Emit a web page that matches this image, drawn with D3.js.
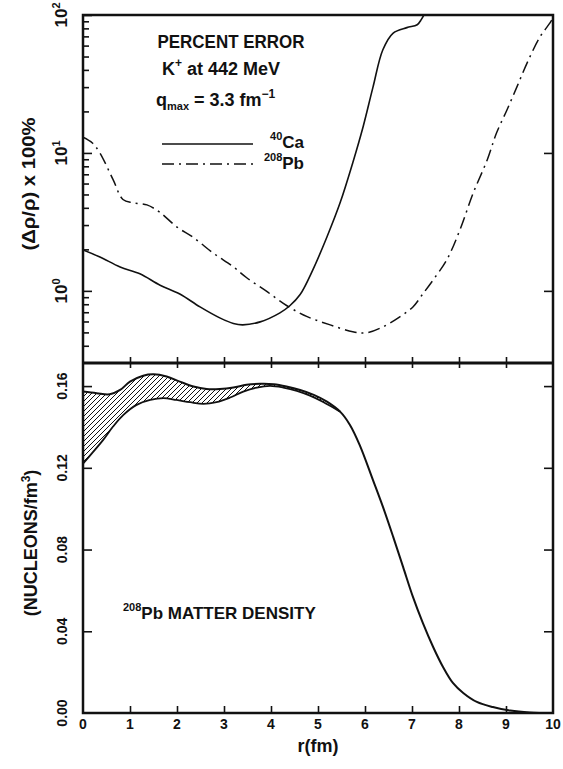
<!DOCTYPE html>
<html><head><meta charset="utf-8">
<script src="https://cdn.jsdelivr.net/npm/d3@7"></script>
<style>
body{margin:0;background:#fff;}
text{font-family:"Liberation Sans",Arial,sans-serif;font-weight:bold;fill:#111;}
</style></head><body>
<script>
// r axis
const rTicks = [0,1,2,3,4,5,6,7,8,9,10];

// top panel: percent error (log scale)
const caR   = [0, 0.36, 0.79, 1.21, 1.64, 2.06, 2.49, 2.91, 3.2, 3.4, 3.77, 4.19, 4.4, 4.62, 4.89, 5.19, 5.47, 5.74, 5.96, 6.17, 6.38, 6.6, 6.89, 7.11, 7.2, 7.28];
const caErr = [1.98, 1.76, 1.49, 1.33, 1.1, 0.95, 0.765, 0.637, 0.58, 0.567, 0.596, 0.693, 0.78, 0.94, 1.42, 2.46, 4.35, 8.5, 15.5, 30, 56, 74, 81, 85, 93, 104];
const pbR   = [0, 0.2, 0.36, 0.64, 0.85, 1.06, 1.36, 1.64, 2.0, 2.34, 2.77, 3.19, 3.49, 3.91, 4.34, 4.77, 5.26, 5.74, 6.04, 6.38, 6.74, 7.02, 7.23, 7.45, 7.74, 8.02, 8.3, 8.6, 8.8, 9.02, 9.23, 9.45, 9.72, 9.94, 10];
const pbErr = [13, 11.8, 10.0, 6.4, 4.6, 4.35, 4.2, 3.7, 2.9, 2.45, 1.88, 1.5, 1.24, 0.99, 0.78, 0.65, 0.567, 0.505, 0.497, 0.548, 0.648, 0.765, 0.95, 1.2, 1.68, 2.77, 5.1, 8.9, 14, 20.5, 30, 45, 69, 88, 95];
const logMajor = [1, 10, 100];
const logMinor = [0.4,0.5,0.6,0.7,0.8,0.9,2,3,4,5,6,7,8,9,20,30,40,50,60,70,80,90];

// bottom panel: 208Pb matter density, upper and lower bounds of error band
const rhoUpR = [0, 0.29, 0.57, 0.79, 1.0, 1.28, 1.5, 1.78, 2.06, 2.35, 2.63, 2.91, 3.2, 3.48, 3.77, 4.06, 4.33, 4.62, 4.91, 5.19, 5.47, 5.68, 5.89, 6.17, 6.38, 6.6, 6.81, 7.02, 7.23, 7.45, 7.66, 7.87, 8.09, 8.38, 8.72, 9.09, 9.5, 10];
const rhoUp  = [0.1573, 0.1565, 0.156, 0.1581, 0.1622, 0.1651, 0.1658, 0.1647, 0.1622, 0.1598, 0.1586, 0.1586, 0.1593, 0.1606, 0.1611, 0.1609, 0.1598, 0.1581, 0.1557, 0.1524, 0.1475, 0.141, 0.131, 0.114, 0.101, 0.0862, 0.0715, 0.0568, 0.0441, 0.0323, 0.0225, 0.0147, 0.0098, 0.0054, 0.0029, 0.0012, 0.0003, 0];
const rhoLoR = [0, 0.22, 0.43, 0.64, 0.86, 1.14, 1.43, 1.71, 1.99, 2.28, 2.56, 2.84, 3.13, 3.41, 3.7, 3.98, 4.26, 4.55, 4.83, 5.11, 5.47];
const rhoLo  = [0.122, 0.1279, 0.1337, 0.1402, 0.1459, 0.1508, 0.1532, 0.1541, 0.1532, 0.1521, 0.1513, 0.1521, 0.1544, 0.1573, 0.1593, 0.1601, 0.1593, 0.1577, 0.1553, 0.1522, 0.1475];
const rhoTicks = [0, 0.04, 0.08, 0.12, 0.16];

const W = 563, H = 769;
const L = 83, R = 553, T = 15, M = 363, B = 713;

const svg = d3.select('body').append('svg').attr('width', W).attr('height', H);

const x = d3.scaleLinear().domain([0, 10]).range([L, R]);
const yTop = d3.scaleLog().domain([0.3, 100]).range([M, T]);
const yBot = d3.scaleLinear().domain([0, 0.1713]).range([B, M]);

const defs = svg.append('defs');
defs.append('clipPath').attr('id', 'clipTop').append('rect')
  .attr('x', L).attr('y', T).attr('width', R - L).attr('height', M - T);
defs.append('clipPath').attr('id', 'clipBot').append('rect')
  .attr('x', L).attr('y', M).attr('width', R - L).attr('height', B - M);
const pat = defs.append('pattern').attr('id', 'hatch')
  .attr('patternUnits', 'userSpaceOnUse').attr('width', 5).attr('height', 5);
pat.append('path').attr('d', 'M-1,1 l2,-2 M0,5 l5,-5 M4,6 l2,-2')
  .attr('stroke', '#111').attr('stroke-width', 1);

// ---- top panel ----
const lineTop = d3.line().x(d => x(d[0])).y(d => yTop(d[1])).curve(d3.curveCatmullRom);
const gTop = svg.append('g').attr('clip-path', 'url(#clipTop)');
gTop.append('path').datum(d3.zip(caR, caErr)).attr('d', lineTop)
  .attr('fill', 'none').attr('stroke', '#111').attr('stroke-width', 1.6);
gTop.append('path').datum(d3.zip(pbR, pbErr)).attr('d', lineTop)
  .attr('fill', 'none').attr('stroke', '#111').attr('stroke-width', 1.5)
  .attr('stroke-dasharray', '12,5,2,5');

// left ticks (inward)
svg.append('g').attr('transform', `translate(${L},0)`)
  .call(d3.axisLeft(yTop).tickValues(logMajor).tickSize(-9).tickFormat(''));
svg.append('g').attr('transform', `translate(${L},0)`)
  .call(d3.axisLeft(yTop).tickValues(logMinor).tickSize(-6).tickFormat(''));
svg.append('g').attr('transform', `translate(${R},0)`)
  .call(d3.axisRight(yTop).tickValues([1, 10]).tickSize(-9).tickFormat(''));

// ticks crossing the divider
const midAxis = svg.append('g').attr('transform', `translate(0,${M})`)
  .call(d3.axisBottom(x).tickValues(rTicks.slice(1, -1)).tickSize(5).tickFormat(''));
midAxis.selectAll('.tick line').attr('y1', -6);

// log labels, rotated
logMajor.forEach((v, i) => {
  const t = svg.append('text')
    .attr('transform', `translate(67,${yTop(v)}) rotate(-90)`)
    .attr('text-anchor', 'middle').style('font-size', '17px');
  t.append('tspan').text('10');
  t.append('tspan').attr('dy', -7).style('font-size', '11px').text(i);
});

// ---- bottom panel ----
const lineBot = d3.line().x(d => x(d[0])).y(d => yBot(d[1])).curve(d3.curveCatmullRom);
const up = d3.zip(rhoUpR, rhoUp);
const lo = d3.zip(rhoLoR, rhoLo);
const bandD = lineBot(up.filter(d => d[0] <= 5.47)) +
  lineBot(lo.slice().reverse()).replace(/^M/, 'L') + 'Z';
const gBot = svg.append('g').attr('clip-path', 'url(#clipBot)');
gBot.append('path').attr('d', bandD).attr('fill', 'url(#hatch)').attr('stroke', 'none');
gBot.append('path').datum(up).attr('d', lineBot)
  .attr('fill', 'none').attr('stroke', '#111').attr('stroke-width', 2);
gBot.append('path').datum(lo).attr('d', lineBot)
  .attr('fill', 'none').attr('stroke', '#111').attr('stroke-width', 1.8);

svg.append('g').attr('transform', `translate(0,${B})`)
  .call(d3.axisBottom(x).tickValues(rTicks.slice(1, -1)).tickSize(-7).tickFormat(''));
svg.append('g').attr('transform', `translate(${L},0)`)
  .call(d3.axisLeft(yBot).tickValues(rhoTicks.slice(1)).tickSize(-9).tickFormat(''));
svg.append('g').attr('transform', `translate(${R},0)`)
  .call(d3.axisRight(yBot).tickValues(rhoTicks.slice(1)).tickSize(-9).tickFormat(''));

svg.selectAll('.domain').remove();
svg.selectAll('.tick line').attr('stroke', '#111').attr('stroke-width', 1.6);

rhoTicks.forEach(v => {
  svg.append('text')
    .attr('transform', `translate(67,${yBot(v)}) rotate(-90)`)
    .attr('text-anchor', 'middle').style('font-size', '14px')
    .text(v.toFixed(2));
});

rTicks.forEach(v => {
  svg.append('text').attr('x', x(v)).attr('y', 729)
    .attr('text-anchor', 'middle').style('font-size', '14px').text(v);
});

// frames
svg.append('rect').attr('x', L).attr('y', T).attr('width', R - L).attr('height', B - T)
  .attr('fill', 'none').attr('stroke', '#111').attr('stroke-width', 2.5);
svg.append('line').attr('x1', L).attr('x2', R).attr('y1', M).attr('y2', M)
  .attr('stroke', '#111').attr('stroke-width', 3);

// axis titles
svg.append('text').attr('x', 318).attr('y', 752).attr('text-anchor', 'middle')
  .style('font-size', '18px').text('r(fm)');
svg.append('text').attr('transform', 'translate(35,184) rotate(-90)')
  .attr('text-anchor', 'middle').style('font-size', '18px')
  .attr('textLength', 133).attr('lengthAdjust', 'spacingAndGlyphs')
  .text('(Δρ/ρ) x 100%');
const yl = svg.append('text').attr('transform', 'translate(37,543) rotate(-90)')
  .attr('text-anchor', 'middle').style('font-size', '18px');
yl.append('tspan').text('(NUCLEONS/fm');
yl.append('tspan').attr('dy', -7).style('font-size', '12px').text('3');
yl.append('tspan').attr('dy', 7).text(')');

// legend block
svg.append('text').attr('x', 231).attr('y', 48).attr('text-anchor', 'middle')
  .style('font-size', '18px').attr('textLength', 147).attr('lengthAdjust', 'spacingAndGlyphs')
  .text('PERCENT ERROR');
const k = svg.append('text').attr('x', 162).attr('y', 75).style('font-size', '18px');
k.append('tspan').text('K');
k.append('tspan').attr('dy', -8).style('font-size', '12px').text('+');
k.append('tspan').attr('dy', 8).text(' at 442 MeV');
const q = svg.append('text').attr('x', 156).attr('y', 106).style('font-size', '18px');
q.append('tspan').text('q');
q.append('tspan').attr('dy', 4).style('font-size', '11px').text('max');
q.append('tspan').attr('dy', -4).text(' = 3.3 fm');
q.append('tspan').attr('dy', -8).style('font-size', '12px').text('−1');

svg.append('line').attr('x1', 162).attr('x2', 253).attr('y1', 144).attr('y2', 144)
  .attr('stroke', '#111').attr('stroke-width', 1.6);
svg.append('line').attr('x1', 162).attr('x2', 253).attr('y1', 164).attr('y2', 164)
  .attr('stroke', '#111').attr('stroke-width', 1.5).attr('stroke-dasharray', '12,5,2,5');
const ca = svg.append('text').attr('x', 304).attr('y', 148).attr('text-anchor', 'end').style('font-size', '17px');
ca.append('tspan').attr('dy', -8).style('font-size', '11px').text('40');
ca.append('tspan').attr('dy', 8).text('Ca');
const pb = svg.append('text').attr('x', 304).attr('y', 169).attr('text-anchor', 'end').style('font-size', '17px');
pb.append('tspan').attr('dy', -8).style('font-size', '11px').text('208');
pb.append('tspan').attr('dy', 8).text('Pb');

const md = svg.append('text').attr('x', 123).attr('y', 619).style('font-size', '17px');
md.append('tspan').attr('dy', -8).style('font-size', '11px').text('208');
md.append('tspan').attr('dy', 8).text('Pb MATTER DENSITY');
</script>
</body></html>
